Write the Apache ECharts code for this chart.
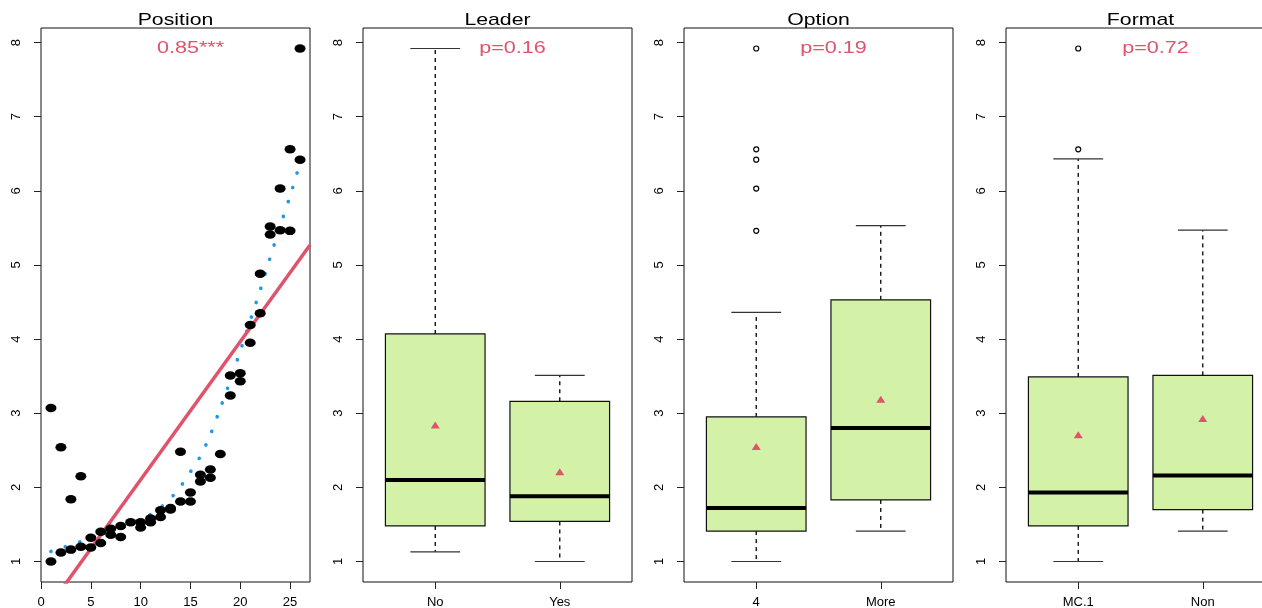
<!DOCTYPE html>
<html><head><meta charset="utf-8">
<script src="https://cdn.jsdelivr.net/npm/echarts@6/dist/echarts.min.js"></script>
<style>html,body{margin:0;padding:0;background:#fff}#c{width:1262px;height:608px}</style>
</head><body><div id="c"></div>
<script>
// ---- data ----
const panelTitles = ['Position', 'Leader', 'Option', 'Format'];
const panelNotes = ['0.85***', 'p=0.16', 'p=0.19', 'p=0.72'];
const yTicks = [1, 2, 3, 4, 5, 6, 7, 8];
const xTicks = [0, 5, 10, 15, 20, 25];
// Position scatter
const posX = [1, 1, 2, 2, 3, 3, 4, 4, 5, 5, 6, 6, 7, 7, 8, 8, 9, 10, 10, 11, 11, 12, 12, 13, 13,
  14, 14, 15, 15, 16, 16, 17, 17, 18, 19, 19, 20, 20, 21, 21, 22, 22, 23, 23, 24, 24, 25, 25, 26, 26];
const posY = [3.07, 1.00, 2.54, 1.12, 1.84, 1.16, 2.15, 1.20, 1.32, 1.19, 1.40, 1.25, 1.44, 1.36, 1.48, 1.33, 1.53, 1.53, 1.46, 1.58, 1.53, 1.69, 1.60, 1.72, 1.70,
  2.48, 1.81, 1.93, 1.81, 2.17, 2.08, 2.24, 2.13, 2.45, 3.51, 3.24, 3.54, 3.43, 4.19, 3.95, 4.35, 4.88, 5.52, 5.41, 6.03, 5.47, 6.56, 5.46, 7.92, 6.42];
// smooth trend (blue dotted)
const trendX = [1, 2, 3, 4, 5, 6, 7, 8, 9, 10, 11, 12, 13, 14, 15, 16, 17, 18, 19, 20, 21, 22, 23, 24, 25, 25.7];
const trendY = [1.135, 1.18, 1.22, 1.27, 1.32, 1.37, 1.42, 1.465, 1.51, 1.565, 1.635, 1.73, 1.85, 2.01, 2.21, 2.42, 2.71, 3.07, 3.44, 3.84, 4.25, 4.66, 5.10, 5.52, 5.93, 6.24];
// linear fit (red)
const fitX = [0, 27];
const fitY = [0.24, 5.27];
// boxplots: [whiskerLow, Q1, median, Q3, whiskerHigh]
const leaderCats = ['No', 'Yes'];
const leaderStats = [[1.13, 1.48, 2.10, 4.07, 7.92], [1.00, 1.54, 1.88, 3.16, 3.51]];
const leaderMeans = [2.84, 2.21];
const leaderOutliers = [[], []];
const optionCats = ['4', 'More'];
const optionStats = [[1.00, 1.41, 1.72, 2.95, 4.36], [1.41, 1.83, 2.80, 4.53, 5.53]];
const optionMeans = [2.55, 3.19];
const optionOutliers = [[7.92, 6.56, 6.42, 6.03, 5.46], []];
const formatCats = ['MC.1', 'Non'];
const formatStats = [[1.00, 1.48, 1.93, 3.49, 6.43], [1.41, 1.70, 2.16, 3.51, 5.47]];
const formatMeans = [2.71, 2.93];
const formatOutliers = [[7.92, 6.56], []];

// ---- layout ----
const FONT = 'Liberation Sans, Arial, Helvetica, sans-serif';
const RED = '#DF536B', BLUE = '#2297E6', FILL = '#D3F2A8';
const lefts = [41, 363, 684, 1006];
const PW = 269, TOP = 28, PH = 554;
const Y_MIN = 0.7232, Y_MAX = 8.1968;

const grids = lefts.map(l => ({left: l, top: TOP, width: PW, height: PH, show: true,
  borderColor: '#111', borderWidth: 1, backgroundColor: 'transparent', containLabel: false,
  outerBoundsMode: 'none'}));

const tickStyle = {show: true, inside: false, length: 7, lineStyle: {color: '#222', width: 1}};
const yAxes = lefts.map((l, i) => ({
  type: 'value', gridIndex: i, min: Y_MIN, max: Y_MAX,
  axisLine: {show: false}, splitLine: {show: false},
  axisTick: Object.assign({customValues: yTicks}, tickStyle),
  axisLabel: {customValues: yTicks, rotate: 90, margin: 18, fontSize: 13, color: '#000', fontFamily: FONT}
}));

const catSets = [null, leaderCats, optionCats, formatCats];
const xAxes = lefts.map((l, i) => {
  if (i === 0) {
    return {type: 'value', gridIndex: 0, min: 0, max: 27,
      axisLine: {show: false}, splitLine: {show: false},
      axisTick: Object.assign({customValues: xTicks}, tickStyle),
      axisLabel: {customValues: xTicks, margin: 14, fontSize: 13, color: '#000', fontFamily: FONT}};
  }
  const cats = catSets[i];
  const pos = cats.map((c, k) => k + 1);
  return {type: 'value', gridIndex: i, min: 0.42, max: 2.58,
    axisLine: {show: false}, splitLine: {show: false},
    axisTick: Object.assign({customValues: pos}, tickStyle),
    axisLabel: {customValues: pos, margin: 14, fontSize: 13, color: '#000', fontFamily: FONT,
      formatter: v => cats[Math.round(v) - 1]}};
});

function renderBox(params, api) {
  const x = api.value(0);
  const lo = api.coord([x, api.value(1)]);
  const q1 = api.coord([x, api.value(2)]);
  const md = api.coord([x, api.value(3)]);
  const q3 = api.coord([x, api.value(4)]);
  const hi = api.coord([x, api.value(5)]);
  const bw = api.size([0.8, 0])[0];
  const cw = bw / 2;
  const cx = lo[0];
  const dash = {stroke: '#000', lineWidth: 1.3, lineDash: [4, 4]};
  const cap = {stroke: '#333', lineWidth: 1.2};
  return {type: 'group', children: [
    {type: 'line', shape: {x1: cx, y1: q3[1], x2: cx, y2: hi[1]}, style: dash},
    {type: 'line', shape: {x1: cx, y1: q1[1], x2: cx, y2: lo[1]}, style: dash},
    {type: 'line', shape: {x1: cx - cw / 2, y1: hi[1], x2: cx + cw / 2, y2: hi[1]}, style: cap},
    {type: 'line', shape: {x1: cx - cw / 2, y1: lo[1], x2: cx + cw / 2, y2: lo[1]}, style: cap},
    {type: 'rect', shape: {x: cx - bw / 2, y: q3[1], width: bw, height: q1[1] - q3[1]},
      style: {fill: FILL, stroke: '#111', lineWidth: 1.2}},
    {type: 'line', shape: {x1: cx - bw / 2, y1: md[1], x2: cx + bw / 2, y2: md[1]},
      style: {stroke: '#000', lineWidth: 4}}
  ]};
}

const series = [
  {type: 'line', xAxisIndex: 0, yAxisIndex: 0, data: fitX.map((x, k) => [x, fitY[k]]),
    showSymbol: false, symbol: 'none', clip: true, silent: true,
    lineStyle: {color: RED, width: 3.5}, z: 3},
  {type: 'line', xAxisIndex: 0, yAxisIndex: 0, data: trendX.map((x, k) => [x, trendY[k]]),
    showSymbol: false, symbol: 'none', smooth: 0.3, silent: true,
    lineStyle: {color: BLUE, width: 3.6, type: [0.1, 15], cap: 'round'}, z: 2},
  {type: 'scatter', xAxisIndex: 0, yAxisIndex: 0, data: posX.map((x, k) => [x, posY[k]]),
    symbol: 'path://M0,5 A5,5 0 1,1 10,5 A5,5 0 1,1 0,5 Z', symbolSize: [11, 8.5],
    itemStyle: {color: '#000', opacity: 1}, z: 4, silent: true}
];

const boxSets = [
  [leaderStats, leaderMeans, leaderOutliers],
  [optionStats, optionMeans, optionOutliers],
  [formatStats, formatMeans, formatOutliers]
];
boxSets.forEach(([stats, means, outs], j) => {
  const gi = j + 1;
  series.push({type: 'custom', xAxisIndex: gi, yAxisIndex: gi, renderItem: renderBox,
    data: stats.map((s, k) => [k + 1].concat(s)), encode: {x: 0, y: [1, 2, 3, 4, 5]}, silent: true, z: 2});
  series.push({type: 'scatter', xAxisIndex: gi, yAxisIndex: gi, data: means.map((m, k) => [k + 1, m]),
    symbol: 'triangle', symbolSize: [9, 7], itemStyle: {color: RED, opacity: 1}, z: 5, silent: true});
  const od = [];
  outs.forEach((arr, k) => arr.forEach(v => od.push([k + 1, v])));
  series.push({type: 'scatter', xAxisIndex: gi, yAxisIndex: gi, data: od,
    symbol: 'circle', symbolSize: 5, itemStyle: {color: '#fff', borderColor: '#000', borderWidth: 1.2, opacity: 1}, z: 5, silent: true});
});

const graphics = [];
lefts.forEach((l, i) => {
  graphics.push({type: 'text', x: l + PW / 2, y: 20, scaleX: 1.25,
    style: {text: panelTitles[i], fontSize: 17, fontFamily: FONT, fill: '#000', align: 'center', verticalAlign: 'middle'}});
  graphics.push({type: 'text', x: l + PW / 2 + 15, y: 48, scaleX: 1.27,
    style: {text: panelNotes[i], fontSize: 17, fontFamily: FONT, fill: RED, align: 'center', verticalAlign: 'middle'}});
});

const chart = echarts.init(document.getElementById('c'), null, {renderer: 'canvas'});
chart.setOption({
  animation: false,
  backgroundColor: '#fff',
  grid: grids, xAxis: xAxes, yAxis: yAxes, series: series, graphic: graphics
});
</script></body></html>
